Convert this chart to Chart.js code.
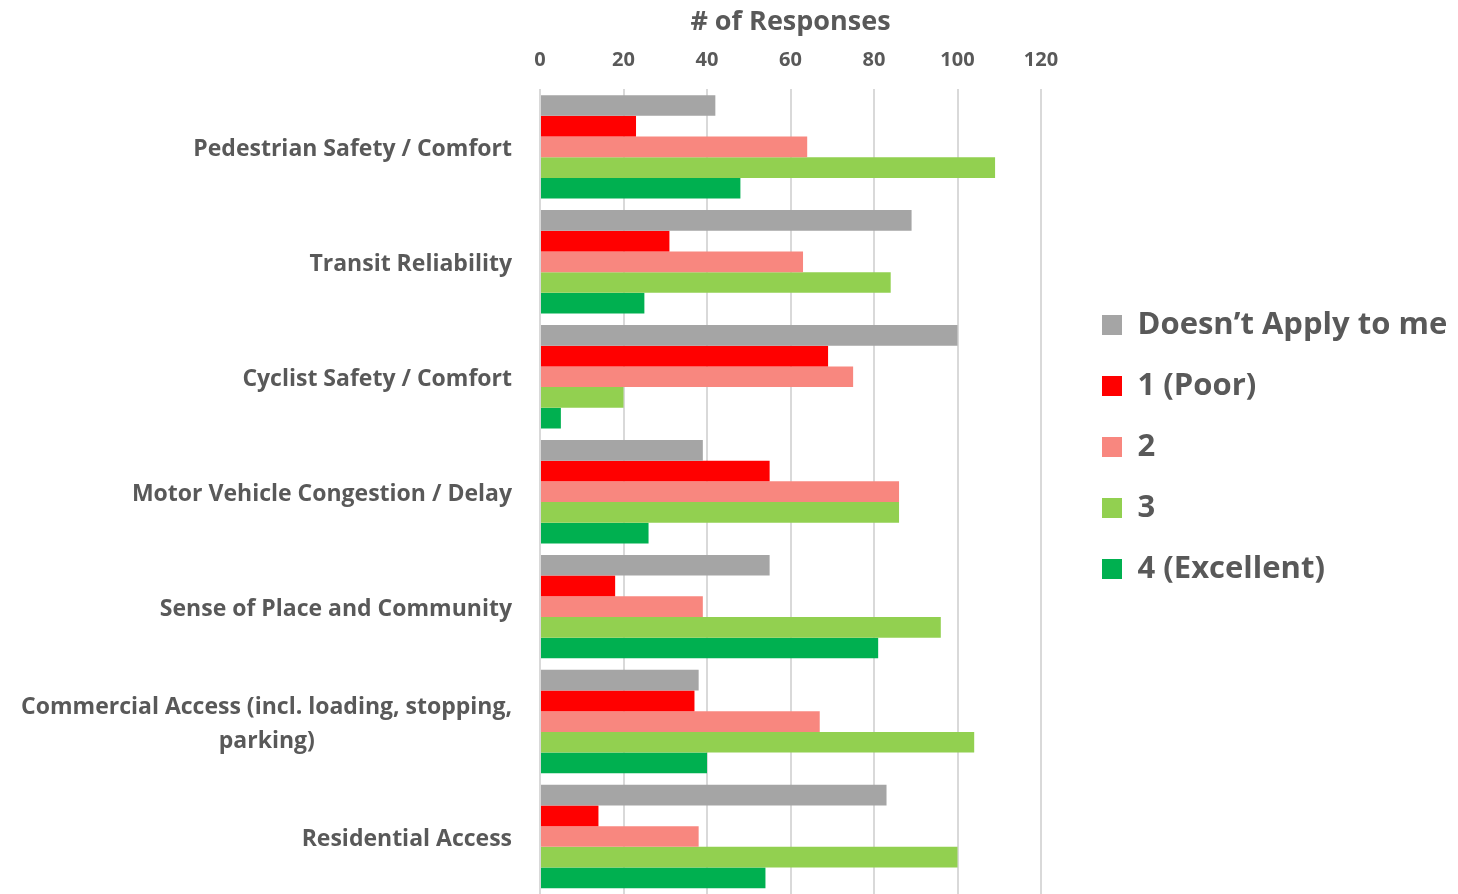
<!DOCTYPE html>
<html>
<head>
<meta charset="utf-8">
<script src="https://cdn.jsdelivr.net/npm/chart.js@4/dist/chart.umd.min.js"></script>
<style>
  html, body { margin: 0; padding: 0; background: #fff; }
  #wrap { width: 1458px; height: 894px; }
</style>
</head>
<body>
<div id="wrap"><canvas id="chart" width="1458" height="894"></canvas></div>
<script>
const categories = [
    'Pedestrian Safety / Comfort',
    'Transit Reliability',
    'Cyclist Safety / Comfort',
    'Motor Vehicle Congestion / Delay',
    'Sense of Place and Community',
    ['Commercial Access (incl. loading, stopping,', 'parking)'],
    'Residential Access'
];
const seriesNames = ['Doesn\u2019t Apply to me', '1 (Poor)', '2', '3', '4 (Excellent)'];
const notApply  = [42, 89, 100, 39, 55, 38, 83];
const poor      = [23, 31, 69, 55, 18, 37, 14];
const two       = [64, 63, 75, 86, 39, 67, 38];
const three     = [109, 84, 20, 86, 96, 104, 100];
const excellent = [48, 25, 5, 26, 81, 40, 54];
const xTicks = [0, 20, 40, 60, 80, 100, 120];

const colors = ['#A5A5A5', '#FF0000', '#F8877F', '#92D050', '#00B050'];
const TXT = '#595959';
const FONT = 'Open Sans';
const LBL_SIZE = 23;

const values = [notApply, poor, two, three, excellent];
const datasets = values.map((v, i) => ({
    label: seriesNames[i],
    data: v,
    backgroundColor: colors[i],
    borderWidth: 0,
    categoryPercentage: 0.9,
    barPercentage: 1.0
}));

// pad the short second line so the wrapped label looks centred as a block
function padLabel(ctx, lines) {
    ctx.font = 'bold ' + LBL_SIZE + 'px "' + FONT + '"';
    const w0 = ctx.measureText(lines[0]).width;
    const w1 = ctx.measureText(lines[1]).width;
    const sp = ctx.measureText(' ').width;
    const n = Math.round(((w0 - w1) / 2) / sp);
    return [lines[0], lines[1] + ' '.repeat(n)];
}

// legend: reserve room right of the plot, then move the items over
const legendGap = {
    id: 'legendGap',
    beforeInit(chart) {
        const fit = chart.legend.fit;
        chart.legend.fit = function () { fit.call(this); this.width = 1458 - 1041; };
    },
    afterLayout(chart) {
        chart.legend.left = 1102 - chart.legend.options.labels.padding;
    }
};

const canvas = document.getElementById('chart');
const c2d = canvas.getContext('2d');
categories[5] = padLabel(c2d, categories[5]);

let chart = new Chart(c2d, {
    type: 'bar',
    data: { labels: categories, datasets: datasets },
    plugins: [legendGap],
    options: {
        indexAxis: 'y',
        responsive: false,
        animation: false,
        layout: { padding: { top: 0, right: 0, bottom: 0, left: 0 } },
        scales: {
            x: {
                position: 'top',
                min: 0, max: 120,
                afterBuildTicks: (s) => { s.ticks = xTicks.map(v => ({ value: v })); },
                grid: { color: '#D9D9D9', lineWidth: 2, drawTicks: false },
                border: { display: false },
                ticks: { color: TXT, font: { family: FONT, size: 20, weight: 'bold' }, padding: 17 },
                title: { display: true, text: '# of Responses', color: TXT,
                         font: { family: FONT, size: 27, weight: 'bold' }, padding: { top: 6, bottom: -7 } }
            },
            y: {
                grid: { display: false, drawTicks: false },
                border: { display: false },
                ticks: { color: TXT, font: { family: FONT, size: LBL_SIZE, weight: 'bold', lineHeight: 1.45 },
                         padding: 28, labelOffset: 3 },
                afterFit: (s) => { s.width = 540; s.paddingTop = 0; s.paddingBottom = 0; }
            }
        },
        plugins: {
            tooltip: { enabled: false },
            legend: {
                position: 'right',
                labels: {
                    color: TXT,
                    font: { family: FONT, size: 31, weight: 'bold' },
                    boxWidth: 20, boxHeight: 20,
                    padding: 30
                }
            }
        }
    }
});
</script>
</body>
</html>
